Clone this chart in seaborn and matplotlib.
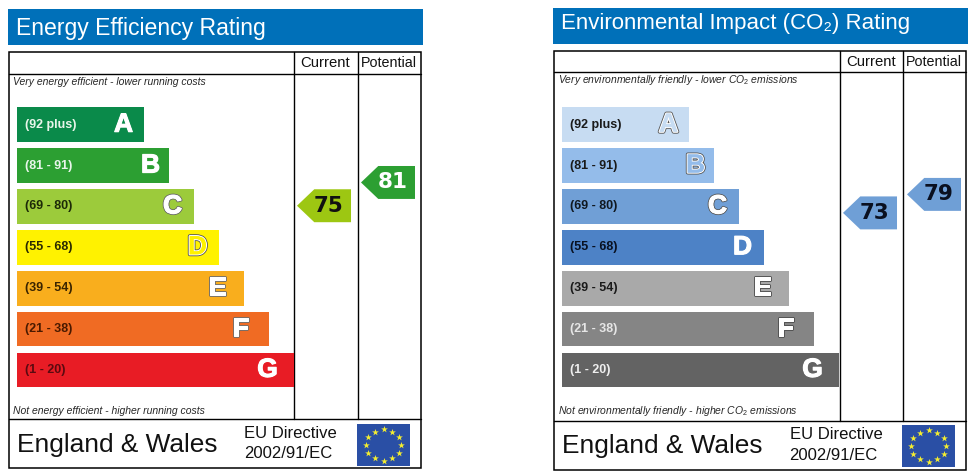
"""EPC energy and environmental rating charts."""
import numpy as np
import pandas as pd
import matplotlib
matplotlib.use("Agg")
import matplotlib.pyplot as plt
import matplotlib.patheffects as pe
import seaborn as sns
from matplotlib.path import Path
from matplotlib.patches import Rectangle

bands = ["A", "B", "C", "D", "E", "F", "G"]
ranges = ["(92 plus)", "(81 - 91)", "(69 - 80)", "(55 - 68)", "(39 - 54)", "(21 - 38)", "(1 - 20)"]
bar_lengths = [127, 152, 177, 202, 227, 252, 277]
letter_gaps = [20, 18, 21, 21, 26, 28, 26]
columns = ["Current", "Potential"]

energy_scores = [75, 81]
energy_colors = ["#0a8a4a", "#2c9f32", "#9ccb3b", "#fff200", "#f9ae1d", "#f06b23", "#e81c25"]
energy_range_colors = ["#e8f5ea", "#e8f5ea", "#1d2a08", "#2a2a00", "#3a2400", "#4a1a00", "#5a0a10"]
energy_letter_fill = ["white", "white", "white", "#fff200", "white", "white", "white"]
energy_letter_edge = ["white", "white", "#666666", "hollow", "#666666", "#666666", "white"]
energy_pointer_colors = ["#9dc712", "#2c9f32"]
energy_score_colors = ["#111111", "#ffffff"]

env_scores = [73, 79]
env_colors = ["#c7dcf2", "#94bcea", "#709fd6", "#4d82c6", "#a9a9a9", "#858585", "#636363"]
env_range_colors = ["#1a1a1a", "#1a1a1a", "#101820", "#081020", "#1a1a1a", "#e6e6e6", "#eeeeee"]
env_letter_fill = ["#c7dcf2", "#94bcea", "white", "white", "white", "white", "white"]
env_letter_edge = ["hollow", "hollow", "#555555", "white", "#444444", "#444444", "white"]
env_pointer_colors = ["#6f9fd6", "#6f9fd6"]
env_score_colors = ["#0a1020", "#0a1020"]

W, H = 968, 474
BLUE = "#0070b9"
SANS = ["Liberation Sans", "DejaVu Sans"]


def _px_axes(fig, x0, y0, x1, y1):
    ax = fig.add_axes([x0 / W, 1 - y1 / H, (x1 - x0) / W, (y1 - y0) / H])
    ax.patch.set_alpha(0)
    return ax


def _letter_effects(edge):
    if edge == "hollow":
        return [pe.withStroke(linewidth=2.8, foreground="#555555"),
                pe.withStroke(linewidth=1.6, foreground="white"), pe.Normal()]
    if edge == "white":
        return [pe.withStroke(linewidth=0.8, foreground="white"), pe.Normal()]
    return [pe.withStroke(linewidth=2.0, foreground=edge),
            pe.withStroke(linewidth=0.8, foreground="white"), pe.Normal()]


def _rating_bars(fig, x0, colors, range_colors, fills, edges):
    df = pd.DataFrame({"band": bands, "length": bar_lengths})
    ax = _px_axes(fig, x0, 104.3, x0 + max(bar_lengths), 390.3)
    sns.barplot(data=df, x="length", y="band", hue="band", palette=colors, order=bands,
                hue_order=bands, width=0.85, legend=False, saturation=1, linewidth=0, ax=ax)
    ax.set_xlim(0, max(bar_lengths))
    ax.axis("off")
    for i, band in enumerate(bands):
        ax.text(8.5, i, ranges[i], color=range_colors[i], va="center", ha="left",
                fontsize=9, fontweight="bold", family=SANS)
        t = ax.text(bar_lengths[i] - letter_gaps[i], i, band, color=fills[i], va="center", ha="center",
                    fontsize=19, fontweight="bold", family=SANS)
        t.set_path_effects(_letter_effects(edges[i]))


def _pointers(fig, x0, y0, y1, scores, ylim, colors, text_colors):
    df = pd.DataFrame({"column": columns, "score": scores})
    ax = _px_axes(fig, x0, y0, x0 + 128, y1)
    marker = Path([(-1, 0), (-0.36, 0.61), (1, 0.61), (1, -0.61), (-0.36, -0.61), (-1, 0)], closed=True)
    sns.scatterplot(data=df, x="column", y="score", hue="column", palette=colors, marker=marker,
                    s=1512, linewidth=0, legend=False, ax=ax)
    ax.set_xlim(-0.5, 1.5)
    ax.set_ylim(*ylim)
    ax.axis("off")
    for i, score in enumerate(scores):
        ax.annotate(str(score), (i, score), xytext=(3.5, 0), textcoords="offset points", ha="center",
                    va="center", color=text_colors[i], fontsize=15.5, fontweight="bold", family="DejaVu Sans")


def _flag(fig, x0, y0, x1, y1):
    ax = _px_axes(fig, x0, y0, x1, y1)
    ax.set_facecolor("#2a4fa5")
    ax.patch.set_alpha(1)
    ang = np.arange(12) * np.pi / 6
    ax.scatter(np.cos(ang), np.sin(ang), marker="*", s=26, color="#f5ee30", linewidth=0)
    ax.set_xlim(-1.5, 1.5)
    ax.set_ylim(-1.35, 1.35)
    ax.set_xticks([])
    ax.set_yticks([])
    for s in ax.spines.values():
        s.set_visible(False)


def draw_panel(fig, bg, ox, title, title_xy, title_size, band_box, frame, col_x, footer_y, head_y,
               top_note, bottom_note, note_y, colors, range_colors, fills, edges,
               scores, ylim, pointer_colors, score_colors, footer_text_y, flag_box):
    bg.add_patch(Rectangle((band_box[0], band_box[1]), band_box[2] - band_box[0], band_box[3] - band_box[1],
                           facecolor=BLUE, edgecolor="none"))
    bg.text(title_xy[0], title_xy[1], title, color="white", fontsize=title_size, va="center", ha="left", family=SANS)

    left, top, right, bottom = frame
    bg.add_patch(Rectangle((left, top), right - left, bottom - top, fill=False, edgecolor="black", linewidth=1.1))
    bg.plot([left, right], [head_y, head_y], color="black", lw=1.0)
    bg.plot([left, right], [footer_y, footer_y], color="black", lw=1.0)
    for x in col_x:
        bg.plot([x, x], [top, footer_y], color="black", lw=1.0)
    bg.text((col_x[0] + col_x[1]) / 2, (top + head_y) / 2 + 0.5, columns[0], ha="center", va="center",
            fontsize=10.7, color="#111111", family=SANS)
    bg.text((col_x[1] + right) / 2, (top + head_y) / 2 + 0.5, columns[1], ha="center", va="center",
            fontsize=10.3, color="#111111", family=SANS)

    bg.text(left + 4.5, note_y[0], top_note, fontsize=7.5, style="italic", va="center", ha="left", family=SANS)
    bg.text(left + 4.5, note_y[1], bottom_note, fontsize=7.5, style="italic", va="center", ha="left", family=SANS)

    bg.text(ox + 17, footer_text_y + 1.5, "England & Wales", fontsize=18.9, va="center", ha="left", color="#111111", family=SANS)
    bg.text(ox + 244.5, footer_text_y - 10.3, "EU Directive", fontsize=12, va="center", ha="left", color="#111111", family=SANS)
    bg.text(ox + 244.5, footer_text_y + 10.3, "2002/91/EC", fontsize=12, va="center", ha="left", color="#111111", family=SANS)

    _rating_bars(fig, ox + 16.5, colors, range_colors, fills, edges)
    _pointers(fig, col_x[0] - 1.5, head_y, footer_y, scores, ylim, pointer_colors, score_colors)
    _flag(fig, *flag_box)


def main():
    sns.set_theme(style="white")
    plt.rcParams["font.family"] = SANS
    plt.rcParams["mathtext.fontset"] = "custom"
    plt.rcParams["mathtext.rm"] = "Liberation Sans"
    plt.rcParams["mathtext.it"] = "Liberation Sans:italic"

    fig = plt.figure(figsize=(W / 100, H / 100), dpi=100, facecolor="white")
    bg = fig.add_axes([0, 0, 1, 1])
    bg.set_xlim(0, W)
    bg.set_ylim(H, 0)
    bg.axis("off")

    draw_panel(fig, bg, 0, "Energy Efficiency Rating", (16, 28), 16.6, (8, 9, 423, 45), (8.5, 51.5, 421, 468),
               (293.5, 357.5), 419, 73.5,
               "Very energy efficient - lower running costs", "Not energy efficient - higher running costs",
               (81.5, 411), energy_colors, energy_range_colors, energy_letter_fill, energy_letter_edge,
               energy_scores, (20.0, 109.1), energy_pointer_colors, energy_score_colors, 443.7, (357, 424, 410, 466))

    draw_panel(fig, bg, 545, "Environmental Impact (CO\u2082) Rating", (561, 23), 16.0, (553, 8, 968, 44), (553.5, 50.5, 966, 469.5),
               (839.5, 902.5), 421, 72,
               r"Very environmentally friendly - lower CO$_{2}$ emissions",
               r"Not environmentally friendly - higher CO$_{2}$ emissions",
               (79.5, 411), env_colors, env_range_colors, env_letter_fill, env_letter_edge,
               env_scores, (5.5, 118.7), env_pointer_colors, env_score_colors, 445, (902, 425, 955, 467))

    fig.savefig("out.png", dpi=100)


main()
